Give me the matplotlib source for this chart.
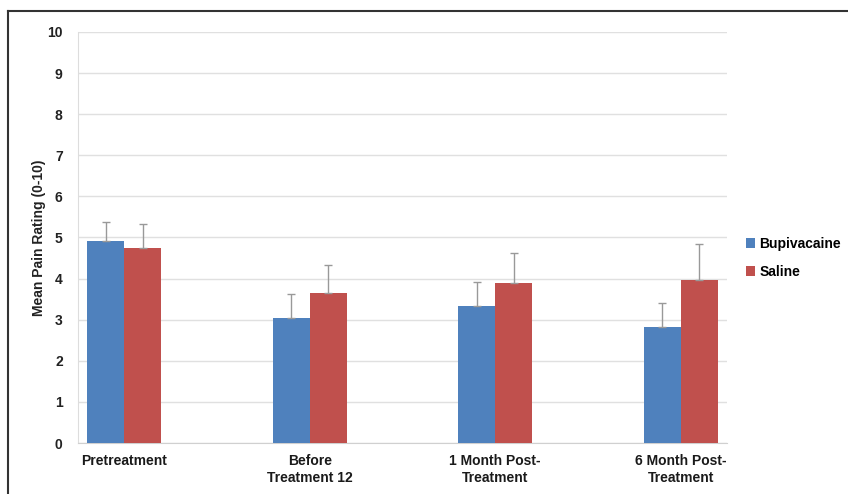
import matplotlib
matplotlib.use("Agg")
import matplotlib.pyplot as plt
from matplotlib.lines import Line2D
import numpy as np

categories = ["Pretreatment", "Before\nTreatment 12", "1 Month Post-\nTreatment", "6 Month Post-\nTreatment"]
bupivacaine = [4.91, 3.04, 3.33, 2.82]
bupivacaine_err = [0.47, 0.58, 0.59, 0.59]
saline = [4.74, 3.65, 3.89, 3.97]
saline_err = [0.59, 0.68, 0.73, 0.87]
series_names = ["Bupivacaine", "Saline"]

plt.rcParams["font.family"] = ["Liberation Sans", "DejaVu Sans"]

fig = plt.figure(figsize=(8.48, 4.94), dpi=100)
ax = fig.add_axes([78 / 848, 1 - 443 / 494, (727 - 78) / 848, (443 - 32) / 494])

x = np.arange(len(categories))
w = 0.2
err_style = dict(ecolor="#999999", elinewidth=1.0, capsize=3, capthick=1.0)
ax.bar(x - w / 2, bupivacaine, w, color="#4F81BD", label=series_names[0],
       yerr=[np.zeros(len(x)), bupivacaine_err], error_kw=err_style, zorder=3)
ax.bar(x + w / 2, saline, w, color="#C0504D", label=series_names[1],
       yerr=[np.zeros(len(x)), saline_err], error_kw=err_style, zorder=3)

ax.set_xlim(-0.25, 3.25)
ax.set_ylim(0, 10)
ax.set_yticks(range(0, 11))
ax.set_xticks(x)
ax.set_xticklabels(categories, fontsize=10, fontweight="bold", color="#1a1a1a", linespacing=1.3)
for lab in ax.get_yticklabels():
    lab.set_fontweight("bold")
    lab.set_fontsize(10)
    lab.set_color("#222222")
ax.tick_params(axis="both", length=0)
ax.tick_params(axis="y", pad=11)
ax.tick_params(axis="x", pad=8)
ax.yaxis.grid(True, color="#e0e0e0", linewidth=1.0, zorder=0)
ax.set_axisbelow(True)
for s in ["top", "right"]:
    ax.spines[s].set_visible(False)
ax.spines["left"].set_color("#dddddd")
ax.spines["bottom"].set_color("#d0d0d0")
ax.set_ylabel("Mean Pain Rating (0-10)", fontsize=10, fontweight="bold", color="#222222", labelpad=1)

ax.legend(loc="upper left", bbox_to_anchor=(1.02, 0.515), frameon=False,
          prop={"weight": "bold", "size": 10}, handlelength=0.7, handleheight=0.7,
          handletextpad=0.3, labelspacing=1.0, borderaxespad=0)

# outer frame
fig.add_artist(Line2D([8 / 848, 1.0], [1 - 11 / 494, 1 - 11 / 494], color="#333333", linewidth=1.5))
fig.add_artist(Line2D([8 / 848, 8 / 848], [0.0, 1 - 11 / 494], color="#333333", linewidth=1.5))

plt.savefig("out.png", dpi=100)
plt.close()
